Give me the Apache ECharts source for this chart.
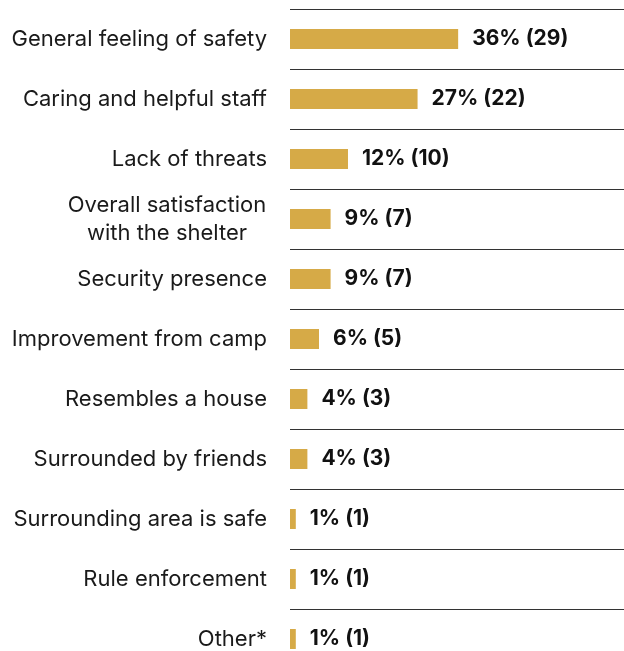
<!DOCTYPE html>
<html>
<head>
<meta charset="utf-8">
<script src="https://cdn.jsdelivr.net/npm/echarts@6/dist/echarts.min.js"></script>
<style>
  html, body { margin: 0; padding: 0; background: #fff; overflow: hidden; }
  #chart { width: 624px; height: 669px; }
</style>
</head>
<body>
<div id="chart"></div>
<script>
// Reasons residents gave for feeling safe in the shelter
const categories = [
  'General feeling of safety',
  'Caring and helpful staff',
  'Lack of threats',
  'Overall satisfaction\nwith the shelter',
  'Security presence',
  'Improvement from camp',
  'Resembles a house',
  'Surrounded by friends',
  'Surrounding area is safe',
  'Rule enforcement',
  'Other*'
];
const counts = [29, 22, 10, 7, 7, 5, 3, 3, 1, 1, 1];
const percents = [36, 27, 12, 9, 9, 6, 4, 4, 1, 1, 1];

const FONT = 'Inter, sans-serif';
const chart = echarts.init(document.getElementById('chart'), null, { renderer: 'canvas' });

chart.setOption({
  animation: false,
  grid: { left: 290, right: 0, top: 9, bottom: 0, containLabel: false },
  xAxis: {
    type: 'value',
    min: 0,
    max: 57.6,
    show: false
  },
  yAxis: {
    type: 'category',
    data: categories,
    inverse: true,
    axisLine: { show: false },
    axisTick: { show: false },
    splitLine: { show: true, lineStyle: { color: '#333333', width: 1 } },
    axisLabel: {
      margin: 23,
      color: '#1a1a1a',
      fontFamily: FONT,
      fontSize: 22,
      lineHeight: 28,
      align: 'right',
      formatter: function (v) {
        if (v.indexOf('\n') >= 0) {
          return v.split('\n').map(function (s) { return '{c|' + s + '}'; }).join('\n');
        }
        return v;
      },
      rich: {
        c: { width: 200, align: 'center', fontFamily: FONT, fontSize: 22, lineHeight: 28, color: '#1a1a1a' }
      }
    }
  },
  series: [{
    type: 'bar',
    data: counts,
    barWidth: 20,
    itemStyle: { color: '#D6AA47' },
    label: {
      show: true,
      position: 'right',
      distance: 14,
      color: '#111111',
      fontFamily: FONT,
      fontWeight: 'bold',
      fontSize: 21,
      formatter: function (p) {
        return percents[p.dataIndex] + '% (' + counts[p.dataIndex] + ')';
      }
    }
  }]
});
</script>
</body>
</html>
